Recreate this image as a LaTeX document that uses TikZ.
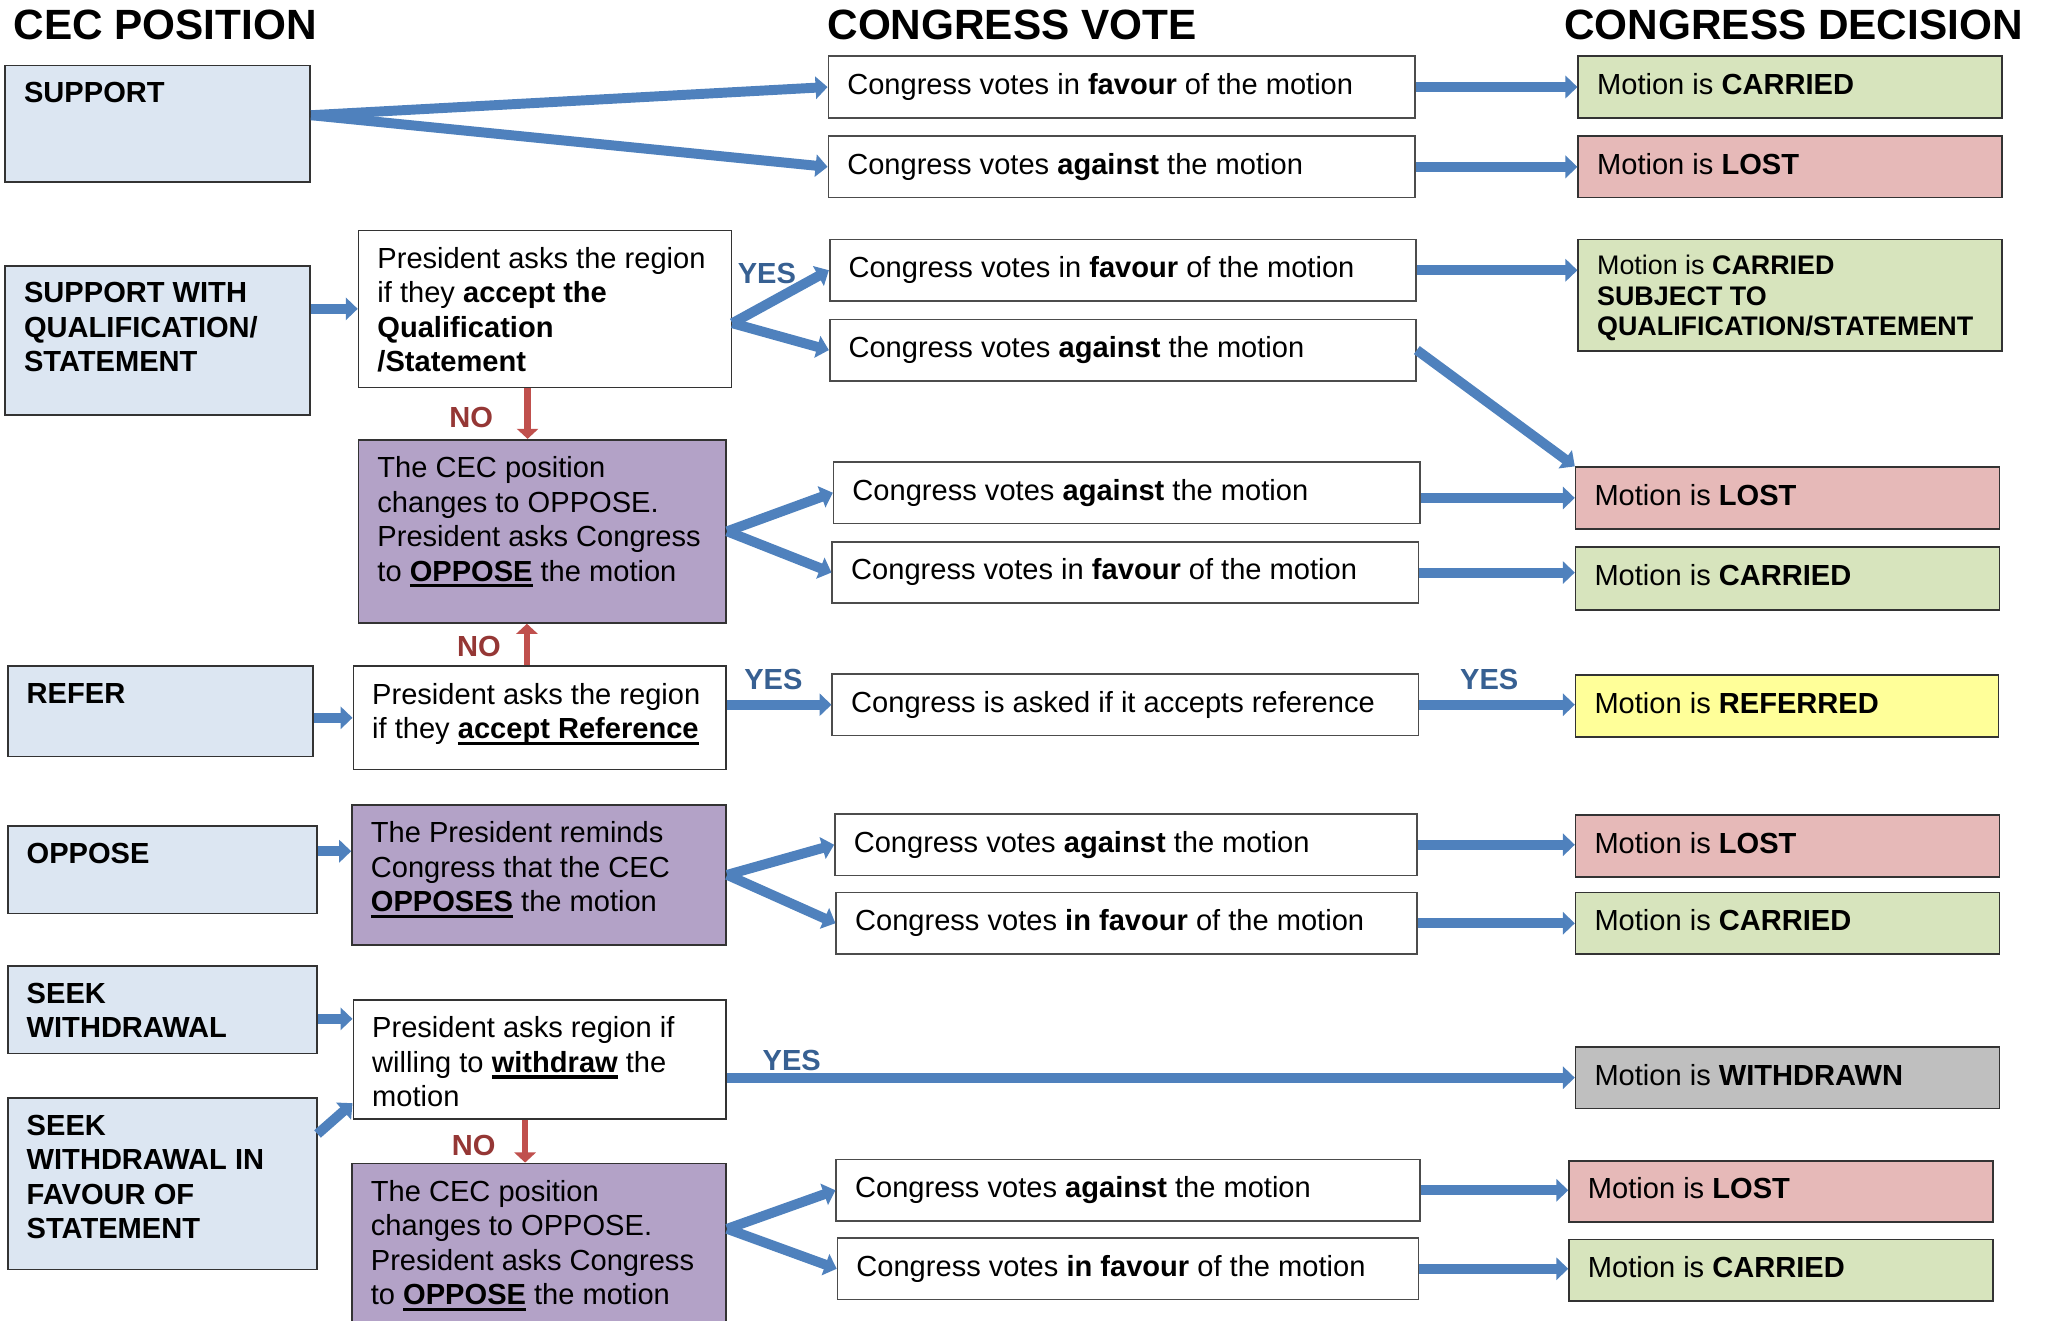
\documentclass[tikz,border=0pt]{standalone}
\usepackage{fontspec}
\setmainfont{Liberation Sans}
\usetikzlibrary{arrows.meta,fit,positioning}

\definecolor{cecblue}{RGB}{220,230,242}
\definecolor{carried}{RGB}{215,228,189}
\definecolor{lost}{RGB}{230,185,184}
\definecolor{referred}{RGB}{255,255,153}
\definecolor{withdrawn}{RGB}{191,191,191}
\definecolor{oppose}{RGB}{179,162,199}
\definecolor{flowblue}{RGB}{79,129,189}
\definecolor{flowred}{RGB}{192,80,77}
\definecolor{yestext}{RGB}{55,96,146}
\definecolor{notext}{RGB}{149,55,53}

\newcommand{\basefont}{\fontsize{15.8}{18.7}\selectfont}
\newsavebox{\ulbox}
\newcommand{\ulbold}[1]{\sbox{\ulbox}{\bfseries #1}\rlap{\rule[-3.4pt]{\wd\ulbox}{1.8pt}}\usebox{\ulbox}}

\tikzset{
  box/.style={draw=black!80, line width=0.9pt, inner sep=0pt},
  txt/.style={anchor=north west, inner xsep=10.5pt, inner ysep=9.5pt, align=left, font=\basefont},
  flow/.style={draw=flowblue, line width=5.4pt, -{Triangle[width=12pt,length=6.5pt]}},
  noflow/.style={draw=flowred, line width=3.4pt, -{Triangle[width=11.5pt,length=5.5pt]}},
}

\begin{document}
\begin{tikzpicture}[x=0.025cm, y=-0.025cm]
  \useasboundingbox (0,0) rectangle (1568,1009);
  \clip (0,0) rectangle (1568,1009);

  % column headings
  \begin{scope}[every node/.style={anchor=west, inner sep=0pt, font=\fontsize{23}{27}\selectfont\bfseries}]
    \node (hcec) at (10,19) {CEC POSITION};
    \node (hvote) at (632,19) {CONGRESS VOTE};
    \node (hdec) at (1195,19) {CONGRESS DECISION};
  \end{scope}

  % CEC position
  \begin{scope}[every node/.style={box, fill=cecblue}]
    \node[fit={(4,50) (237,139)}] (sup) {};
    \node[fit={(4,203) (237,317)}] (sqs) {};
    \node[fit={(6,509) (239,578)}] (ref) {};
    \node[fit={(6,631) (242,698)}] (opp) {};
    \node[fit={(6,738) (242,805)}] (sw) {};
    \node[fit={(6,839) (242,970)}] (swf) {};
  \end{scope}

  % president
  \begin{scope}[every node/.style={box, fill=white}]
    \node[fit={(274,176) (559,296)}] (askq) {};
    \node[fill=oppose, fit={(274,336) (555,476)}] (chg1) {};
    \node[fit={(270,509) (555,588)}] (askr) {};
    \node[fill=oppose, fit={(269,615) (555,722)}] (rem) {};
    \node[fit={(270,764) (555,855)}] (askw) {};
    \node[fill=oppose, fit={(269,889) (555,1030)}] (chg2) {};
  \end{scope}

  % congress vote
  \begin{scope}[every node/.style={box, draw=black!70, fill=white}]
    \node[fit={(633,43) (1081,90)}] (v1) {};
    \node[fit={(633,104) (1081,151)}] (v2) {};
    \node[fit={(634,183) (1082,230)}] (v3) {};
    \node[fit={(634,244) (1082,291)}] (v4) {};
    \node[fit={(637,353) (1085,400)}] (v5) {};
    \node[fit={(636,414) (1084,461)}] (v6) {};
    \node[fit={(636,515) (1084,562)}] (v7) {};
    \node[fit={(638,622) (1083,669)}] (v8) {};
    \node[fit={(639,682) (1083,729)}] (v9) {};
    \node[fit={(639,886) (1085,933)}] (v10) {};
    \node[fit={(640,946) (1084,993)}] (v11) {};
  \end{scope}

  % congress decision
  \begin{scope}[every node/.style={box}]
    \node[fill=carried, fit={(1206,43) (1530,90)}] (d1) {};
    \node[fill=lost, fit={(1206,104) (1530,151)}] (d2) {};
    \node[fill=carried, fit={(1206,183) (1530,268)}] (d3) {};
    \node[fill=lost, fit={(1204,357) (1528,404)}] (d4) {};
    \node[fill=carried, fit={(1204,418) (1528,466)}] (d5) {};
    \node[fill=referred, fit={(1204,516) (1527,563)}] (d6) {};
    \node[fill=lost, fit={(1204,623) (1528,670)}] (d7) {};
    \node[fill=carried, fit={(1204,682) (1528,729)}] (d8) {};
    \node[fill=withdrawn, fit={(1204,800) (1528,847)}] (d9) {};
    \node[fill=lost, fit={(1199,887) (1523,934)}] (d10) {};
    \node[fill=carried, fit={(1199,947) (1523,994)}] (d11) {};
  \end{scope}

  % texts
  \begin{scope}[every node/.style={txt, font=\basefont\bfseries}]
    \node (supt) at (sup.north west) {SUPPORT};
    \node (sqst) at (sqs.north west) {SUPPORT WITH\\QUALIFICATION/\\STATEMENT};
    \node (reft) at (ref.north west) {REFER};
    \node (oppt) at (opp.north west) {OPPOSE};
    \node (swt) at (sw.north west) {SEEK\\WITHDRAWAL};
    \node (swft) at (swf.north west) {SEEK\\WITHDRAWAL IN\\FAVOUR OF\\STATEMENT};
  \end{scope}

  \begin{scope}[every node/.style={txt}]
    \node (askqt) at (askq.north west) {President asks the region\\if they \textbf{accept the}\\\textbf{Qualification}\\\textbf{/Statement}};
    \node (chg1t) at (chg1.north west) {The CEC position\\changes to OPPOSE.\\President asks Congress\\to \ulbold{OPPOSE} the motion};
    \node (askrt) at (askr.north west) {President asks the region\\if they \ulbold{accept Reference}};
    \node (remt) at (rem.north west) {The President reminds\\Congress that the CEC\\\ulbold{OPPOSES} the motion};
    \node (askwt) at (askw.north west) {President asks region if\\willing to \ulbold{withdraw} the\\motion};
    \node (chg2t) at (chg2.north west) {The CEC position\\changes to OPPOSE.\\President asks Congress\\to \ulbold{OPPOSE} the motion};

    \node (v1t) at (v1.north west) {Congress votes in \textbf{favour} of the motion};
    \node (v2t) at (v2.north west) {Congress votes \textbf{against} the motion};
    \node (v3t) at (v3.north west) {Congress votes in \textbf{favour} of the motion};
    \node (v4t) at (v4.north west) {Congress votes \textbf{against} the motion};
    \node (v5t) at (v5.north west) {Congress votes \textbf{against} the motion};
    \node (v6t) at (v6.north west) {Congress votes in \textbf{favour} of the motion};
    \node (v7t) at (v7.north west) {Congress is asked if it accepts reference};
    \node (v8t) at (v8.north west) {Congress votes \textbf{against} the motion};
    \node (v9t) at (v9.north west) {Congress votes \textbf{in favour} of the motion};
    \node (v10t) at (v10.north west) {Congress votes \textbf{against} the motion};
    \node (v11t) at (v11.north west) {Congress votes \textbf{in favour} of the motion};

    \node (d1t) at (d1.north west) {Motion is \textbf{CARRIED}};
    \node (d2t) at (d2.north west) {Motion is \textbf{LOST}};
    \node[inner ysep=8.5pt, font=\fontsize{14.6}{16.8}\selectfont] (d3t) at (d3.north west) {Motion is \textbf{CARRIED}\\\textbf{SUBJECT TO}\\\textbf{QUALIFICATION/STATEMENT}};
    \node (d4t) at (d4.north west) {Motion is \textbf{LOST}};
    \node (d5t) at (d5.north west) {Motion is \textbf{CARRIED}};
    \node (d6t) at (d6.north west) {Motion is \textbf{REFERRED}};
    \node (d7t) at (d7.north west) {Motion is \textbf{LOST}};
    \node (d8t) at (d8.north west) {Motion is \textbf{CARRIED}};
    \node (d9t) at (d9.north west) {Motion is \textbf{WITHDRAWN}};
    \node (d10t) at (d10.north west) {Motion is \textbf{LOST}};
    \node (d11t) at (d11.north west) {Motion is \textbf{CARRIED}};
  \end{scope}

  % fork points
  \coordinate (supfork) at ([yshift=4.6pt]sup.east);
  \coordinate (qfork) at ([yshift=-7.8pt]askq.east);
  \coordinate (oppout) at ([yshift=10pt]opp.east);
  \coordinate (swout) at ([yshift=-5pt]sw.east);
  \coordinate (swfout) at ([yshift=-20pt]swf.north east);
  \coordinate (swfin) at ([yshift=9pt]askw.south west);
  \coordinate (c2fork) at ([yshift=-36pt]chg2.north east);

  \begin{scope}[every edge/.style={flow}]
    \path (supfork) edge (v1.west);
    \path (supfork) edge (v2.west);
    \path (v1.east) edge (d1.west);
    \path (v2.east) edge (d2.west);

    \path (sqs.east |- askq.west) edge (askq.west);
    \path (qfork) edge (v3.west);
    \path (qfork) edge (v4.west);
    \path (v3.east) edge (v3.east -| d3.west);
    \path (v4.east) edge (d4.north west);

    \path (chg1.east) edge (v5.west);
    \path (chg1.east) edge (v6.west);
    \path (v5.east |- d4.west) edge (d4.west);
    \path (v6.east) edge (v6.east -| d5.west);

    \path (ref.east |- askr.west) edge (askr.west);
    \path (askr.east |- v7.west) edge (v7.west);
    \path (v7.east) edge (v7.east -| d6.west);

    \path (oppout) edge (oppout -| rem.west);
    \path (rem.east) edge (v8.west);
    \path (rem.east) edge (v9.west);
    \path (v8.east) edge (v8.east -| d7.west);
    \path (v9.east) edge (v9.east -| d8.west);

    \path (swout) edge (swout -| askw.west);
    \path (swfout) edge (swfin);
    \path (askw.east |- d9.west) edge (d9.west);

    \path (c2fork) edge (v10.west);
    \path (c2fork) edge (v11.west);
    \path (v10.east) edge (v10.east -| d10.west);
    \path (v11.east) edge (v11.east -| d11.west);
  \end{scope}

  % NO arrows
  \coordinate (no1) at ([xshift=-9.5pt]askq.south);
  \coordinate (no2) at ([xshift=-7pt]askr.north);
  \coordinate (no3) at ([xshift=-8pt]askw.south);
  \begin{scope}[every edge/.style={noflow}]
    \path (no1) edge (no1 |- chg1.north);
    \path (no2) edge (no2 |- chg1.south);
    \path (no3) edge (no3 |- chg2.north);
  \end{scope}

  \begin{scope}[every node/.style={inner sep=0pt, font=\basefont\bfseries, text=yestext}]
    \node (yes1) at (586,209) {YES};
    \node (yes2) at (591,519) {YES};
    \node (yes3) at (1138,519) {YES};
    \node (yes4) at (605,810) {YES};
  \end{scope}
  \begin{scope}[every node/.style={inner sep=0pt, font=\basefont\bfseries, text=notext}]
    \node (nol1) at (360,319) {NO};
    \node (nol2) at (366,494) {NO};
    \node (nol3) at (362,875) {NO};
  \end{scope}
\end{tikzpicture}
\end{document}
